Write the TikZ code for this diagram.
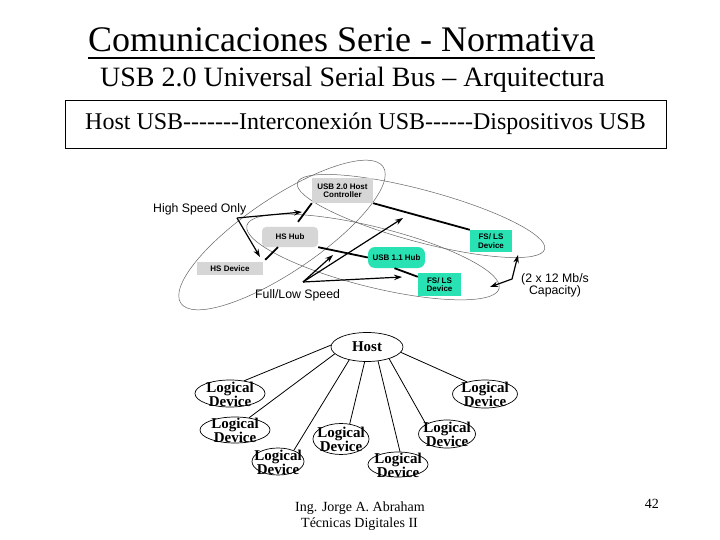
\documentclass[tikz,border=0pt]{standalone}
\usepackage{fontspec}
\setmainfont{Liberation Serif}
\newfontfamily\arialf{Liberation Sans}
\usetikzlibrary{arrows.meta,calc,shapes.geometric}
\definecolor{tealbox}{RGB}{40,226,180}
\definecolor{graybox}{RGB}{214,214,214}
\definecolor{ellgray}{RGB}{100,100,100}
\newcommand{\ldtext}{\makebox[0pt]{\raisebox{-6pt}[0pt][0pt]{\begin{tabular}{@{}c@{}}Logical\\Device\end{tabular}}}}
\begin{document}
\begin{tikzpicture}[x=1pt,y=-1pt,
  gbox/.style={fill=graybox, inner sep=0pt, align=center, font=\arialf\bfseries\fontsize{8}{8.5}\selectfont},
  tbox/.style={gbox, fill=tealbox},
  ell/.style={draw=ellgray, line width=0.5pt},
  conn/.style={line width=1.8pt},
  arr/.style={line width=1.2pt, -{Stealth[length=8pt,width=5.5pt]}},
  lab/.style={inner sep=0pt, font=\arialf\fontsize{12.3}{12.5}\selectfont},
  ldev/.style={ellipse, draw, line width=0.7pt, inner sep=0pt, font=\bfseries\fontsize{15}{12.5}\selectfont},
  dline/.style={line width=0.8pt}
]
\fill[white] (0,0) rectangle (720,540);
\useasboundingbox (0,0) rectangle (720,540);

% ---- headings ----
\node[anchor=base west, inner sep=0pt, font=\fontsize{36}{40}\selectfont] (title) at (88,52) {Comunicaciones Serie - Normativa};
\draw[line width=2.3pt] ($(title.base west)+(0,6)$) -- ($(title.base east)+(0,6)$);
\node[anchor=base west, inner sep=0pt, font=\fontsize{28}{32}\selectfont] (sub) at (100,87) {USB 2.0 Universal Serial Bus -- Arquitectura};
\node[draw, line width=0.9pt, minimum width=601pt, minimum height=48pt, inner sep=0pt, font=\fontsize{24}{28}\selectfont] (band) at (365.5,124) {Host USB-{}-{}-{}-{}-{}-{}-Interconexión USB-{}-{}-{}-{}-{}-Dispositivos USB};

% ---- top diagram: ellipses ----
\draw[ell, rotate around={34:(282,235)}] (282,235) ellipse [x radius=122pt, y radius=37pt];
\draw[ell, rotate around={-15:(421,216)}] (421,216) ellipse [x radius=128pt, y radius=26pt];
\draw[ell, rotate around={-14:(373,257)}] (373,257) ellipse [x radius=130pt, y radius=30pt];

% ---- top diagram: boxes ----
\node[gbox, minimum width=61pt, minimum height=25pt] (hc) at (342.5,190.5) {USB 2.0 Host\\Controller};
\node[gbox, rounded corners=4pt, minimum width=56pt, minimum height=20pt] (hshub) at (290,237) {HS Hub};
\node[gbox, minimum width=66pt, minimum height=13pt] (hsdev) at (230,268.5) {HS Device};
\node[tbox, rounded corners=7pt, minimum width=57pt, minimum height=21pt] (hub11) at (396.5,257.5) {USB 1.1 Hub};
\node[tbox, minimum width=42pt, minimum height=22pt] (fs1) at (491,241) {FS/ LS\\Device};
\node[tbox, minimum width=43pt, minimum height=23pt] (fs2) at (439.5,284.5) {FS/ LS\\Device};

% ---- connectors ----
\draw[conn] (hc.south west) -- ($(hshub.north)+(8,-5)$);
\draw[conn] ($(hshub.south)+(-12,0)$) -- ($(hsdev.north east)+(2,-2)$);
\draw[conn] (hc.south east) -- (fs1.north west);
\draw[conn] (hshub.south east) -- (hub11.west);
\draw[conn] ($(hub11.south)+(-2,0)$) -- ($(fs2.north west)+(0,4)$);

% ---- labels and arrows ----
\node[lab, anchor=base west] (hso) at (153,212) {High Speed Only};
\node[lab, anchor=base west] (fls) at (255,298) {Full/Low Speed};
\node[lab, align=center] (cap) at (555,285.5) {(2 x 12 Mb/s\\Capacity)};

\coordinate (hsoO) at (237,218);
\coordinate (hsoA) at (302,212);
\coordinate (hsoB) at (260,257);
\draw[arr] (hsoO) -- (hsoA);
\draw[arr] (hsoO) -- (hsoB);

\coordinate (flsO) at (303,282);
\coordinate (flsA) at (333,255);
\coordinate (flsB) at (403,218);
\coordinate (flsC) at (402,277);
\draw[arr] (flsO) -- (flsA);
\draw[arr] (flsO) -- (flsB);
\draw[arr] (flsO) -- (flsC);

\coordinate (capA) at (490,287);
\coordinate (capM) at (512,279);
\coordinate (capB) at (518,255);
\draw[line width=1.2pt, {Stealth[length=8pt,width=5.5pt]}-{Stealth[length=8pt,width=5.5pt]}] (capA) -- (capM) -- (capB);

% ---- bottom diagram ----
\node[ldev, minimum width=72pt, minimum height=29pt] (host) at (367,347) {Host};
\node[ldev, minimum width=70pt, minimum height=27pt] (d1) at (230,393.5) {\ldtext};
\node[ldev, minimum width=70pt, minimum height=26pt] (d2) at (235,430) {\ldtext};
\node[ldev, minimum width=52pt, minimum height=27pt] (d3) at (278,461.5) {\ldtext};
\node[ldev, minimum width=56pt, minimum height=31pt] (d4) at (341,439) {\ldtext};
\node[ldev, minimum width=60pt, minimum height=25pt] (d5) at (398,464.5) {\ldtext};
\node[ldev, minimum width=57pt, minimum height=28pt] (d6) at (447,434) {\ldtext};
\node[ldev, minimum width=65pt, minimum height=28pt] (d7) at (485,394) {\ldtext};

\draw[dline] (host.177) -- (d1.42);
\draw[dline] (host.192) -- (d2.41);
\draw[dline] (host.216) -- (d3.35);
\draw[dline] (host.261) -- (d4.60);
\draw[dline] (host.308) -- (d5.81);
\draw[dline] (host.332) -- (d6.155);
\draw[dline] (host.351) -- (d7.146);

% ---- footer ----
\node[anchor=base, inner sep=0pt, font=\fontsize{14}{16}\selectfont] (auth) at (360,511) {Ing. Jorge A. Abraham};
\node[anchor=base, inner sep=0pt, font=\fontsize{14}{16}\selectfont] (course) at (359.5,527.5) {Técnicas Digitales II};
\node[anchor=base east, inner sep=0pt, font=\fontsize{14}{16}\selectfont] (pg) at (659,508.5) {42};
\end{tikzpicture}
\end{document}
